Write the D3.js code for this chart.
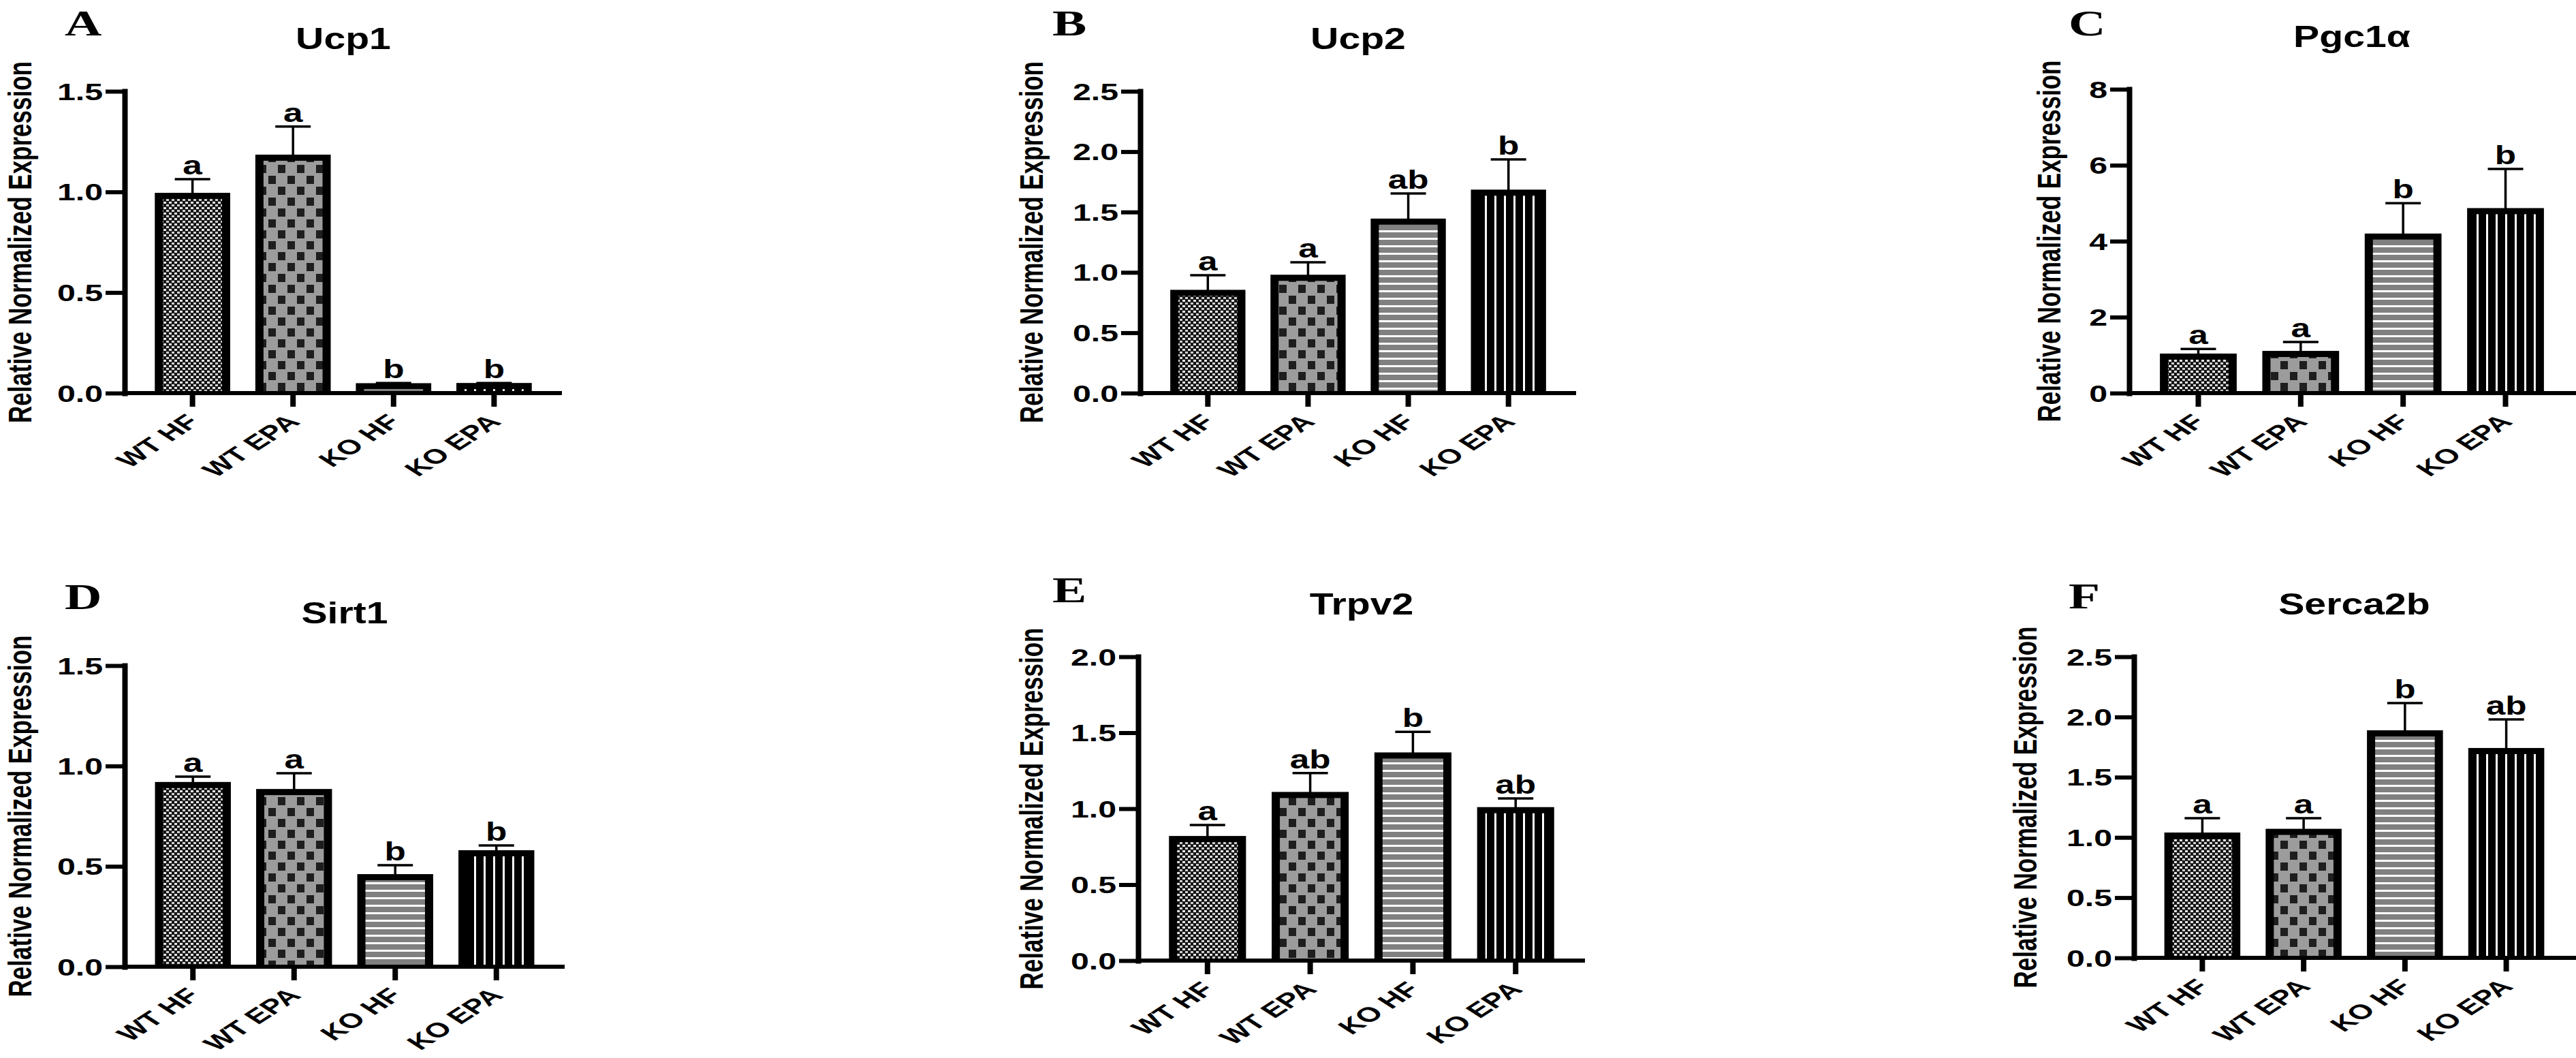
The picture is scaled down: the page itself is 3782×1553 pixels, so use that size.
<!DOCTYPE html>
<html lang="en">
<head>
<meta charset="utf-8">
<title>Relative expression panels</title>
<script src="https://cdn.jsdelivr.net/npm/d3@7"></script>
<style>
  body { margin: 0; background: #fff; }
  .axis path, .axis line { stroke: #000; fill: none; }
  text { font-family: Arial, "Liberation Sans", sans-serif; font-weight: bold; fill: #000; }
  .tag { font-family: "Times New Roman", "Liberation Serif", serif; }
</style>
</head>
<body>
<script>
// groups on the x axis of every panel
var groups = ["WT HF", "WT EPA", "KO HF", "KO EPA"];
var genes = ["Ucp1", "Ucp2", "Pgc1\u03b1", "Sirt1", "Trpv2", "Serca2b"];
var panelTags = ["A", "B", "C", "D", "E", "F"];
var yTitle = "Relative Normalized Expression";

// mean relative expression, one row per gene (same order as groups)
var means = [
  [0.98, 1.17, 0.034, 0.035],
  [0.83, 0.955, 1.42, 1.66],
  [0.96, 1.03, 4.12, 4.79],
  [0.905, 0.87, 0.446, 0.565],
  [0.80, 1.09, 1.35, 0.99],
  [1.015, 1.046, 1.864, 1.717]
];
// error bars (SEM), drawn upward only
var sems = [
  [0.083, 0.155, 0.016, 0.015],
  [0.146, 0.128, 0.233, 0.275],
  [0.2, 0.315, 0.88, 1.11],
  [0.042, 0.094, 0.06, 0.039],
  [0.092, 0.144, 0.156, 0.077],
  [0.145, 0.114, 0.251, 0.263]
];
// significance letters above the bars
var sigLetters = [
  ["a", "a", "b", "b"],
  ["a", "a", "ab", "b"],
  ["a", "a", "b", "b"],
  ["a", "a", "b", "b"],
  ["a", "ab", "b", "ab"],
  ["a", "a", "b", "ab"]
];
var yMax = [1.5, 2.5, 8, 1.5, 2.0, 2.5];
var yTicks = [
  [0, 0.5, 1.0, 1.5],
  [0, 0.5, 1.0, 1.5, 2.0, 2.5],
  [0, 2, 4, 6, 8],
  [0, 0.5, 1.0, 1.5],
  [0, 0.5, 1.0, 1.5, 2.0],
  [0, 0.5, 1.0, 1.5, 2.0, 2.5]
];
var tickFormats = [".1f", ".1f", "d", ".1f", ".1f", ".1f"];

// where each panel sits: y axis x, axis top, zero line, x axis end, y title x, tag position
var layout = [
  {x0: 183,  top: 134, zero: 577,  x1: 825,  labX: 34,   tagX: 95,   tagY: 52},
  {x0: 1674, top: 134, zero: 577,  x1: 2314, labX: 1519, tagX: 1545, tagY: 52},
  {x0: 3126, top: 131, zero: 577,  x1: 3782, labX: 3013, tagX: 3037, tagY: 52},
  {x0: 183,  top: 977, zero: 1419, x1: 829,  labX: 34,   tagX: 95,   tagY: 894},
  {x0: 1671, top: 964, zero: 1410, x1: 2327, labX: 1519, tagX: 1545, tagY: 884},
  {x0: 3133, top: 964, zero: 1406, x1: 3782, labX: 2978, tagX: 3037, tagY: 893}
];

var width = 3782, height = 1553;
var svg = d3.select("body").append("svg")
    .attr("width", width)
    .attr("height", height);
svg.append("rect").attr("width", width).attr("height", height).attr("fill", "#fff");

// fill patterns, one per group
var defs = svg.append("defs");
function pattern(id, w, h) {
  return defs.append("pattern").attr("id", id)
      .attr("patternUnits", "userSpaceOnUse")
      .attr("width", w).attr("height", h);
}
var p0 = pattern("fill0", 8, 8);
p0.append("rect").attr("width", 8).attr("height", 8).attr("fill", "#151515");
p0.append("rect").attr("width", 4).attr("height", 3).attr("fill", "#e6e6e6");
p0.append("rect").attr("x", 4).attr("y", 4).attr("width", 4).attr("height", 3).attr("fill", "#d0d0d0");

var p1 = pattern("fill1", 28, 32);
p1.append("rect").attr("width", 28).attr("height", 32).attr("fill", "#9c9c9c");
p1.append("rect").attr("x", 2).attr("y", 2).attr("width", 11).attr("height", 12).attr("fill", "#1e1e1e");
p1.append("rect").attr("x", 16).attr("y", 18).attr("width", 11).attr("height", 12).attr("fill", "#1e1e1e");

var p2 = pattern("fill2", 10, 11);
p2.append("rect").attr("width", 10).attr("height", 11).attr("fill", "#808080");
p2.append("rect").attr("y", 8).attr("width", 10).attr("height", 3).attr("fill", "#fff");

var p3 = pattern("fill3", 14, 10);
p3.append("rect").attr("width", 14).attr("height", 10).attr("fill", "#000");
p3.append("rect").attr("x", 10).attr("width", 3).attr("height", 10).attr("fill", "#fff");

var sideBorder = 12, topBorder = 9;

genes.forEach(function(gene, i) {
  var L = layout[i];
  var g = svg.append("g").attr("class", "panel");

  var x = d3.scaleBand()
      .domain(groups)
      .range([L.x0, L.x1 > 3780 ? 3780 : L.x1])
      .paddingInner(0.25)
      .paddingOuter(0.3);
  var y = d3.scaleLinear()
      .domain([0, yMax[i]])
      .range([L.zero, L.top]);

  var rows = groups.map(function(grp, j) {
    return {group: grp, idx: j, mean: means[i][j], sem: sems[i][j], sig: sigLetters[i][j]};
  });

  // bars: black frame, pattern inside
  var bar = g.selectAll(".bar").data(rows).enter().append("g").attr("class", "bar");
  bar.append("rect")
      .attr("x", function(d) { return x(d.group); })
      .attr("y", function(d) { return y(d.mean) - topBorder / 2; })
      .attr("width", x.bandwidth())
      .attr("height", function(d) { return L.zero - y(d.mean) + topBorder / 2; })
      .attr("fill", "#000");
  bar.append("rect")
      .attr("x", function(d) { return x(d.group) + sideBorder; })
      .attr("y", function(d) { return y(d.mean) + topBorder / 2; })
      .attr("width", x.bandwidth() - 2 * sideBorder)
      .attr("height", function(d) { return Math.max(0, L.zero - 3 - y(d.mean) - topBorder / 2); })
      .attr("fill", function(d) { return "url(#fill" + d.idx + ")"; });

  // error bars
  var cx = function(d) { return x(d.group) + x.bandwidth() / 2; };
  bar.append("line")
      .attr("x1", cx).attr("x2", cx)
      .attr("y1", function(d) { return y(d.mean); })
      .attr("y2", function(d) { return y(d.mean + d.sem); })
      .attr("stroke", "#000").attr("stroke-width", 3.5);
  bar.append("line")
      .attr("x1", function(d) { return cx(d) - 26; })
      .attr("x2", function(d) { return cx(d) + 26; })
      .attr("y1", function(d) { return y(d.mean + d.sem); })
      .attr("y2", function(d) { return y(d.mean + d.sem); })
      .attr("stroke", "#000").attr("stroke-width", 3.5);
  bar.append("text")
      .attr("transform", function(d) {
        return "translate(" + cx(d) + "," + (y(d.mean + d.sem) - 7) + ") scale(1.35,1)";
      })
      .attr("text-anchor", "middle")
      .style("font-size", "38px")
      .text(function(d) { return d.sig; });

  // y axis
  var yAxis = d3.axisLeft(y)
      .tickValues(yTicks[i])
      .tickFormat(d3.format(tickFormats[i]))
      .tickSize(28)
      .tickSizeOuter(0);
  var gy = g.append("g")
      .attr("class", "axis")
      .attr("font-size", null).attr("font-family", null)
      .attr("transform", "translate(" + L.x0 + ",0)")
      .call(yAxis);
  gy.select(".domain").attr("stroke-width", 8).attr("stroke-linecap", "square");
  gy.selectAll(".tick line").attr("stroke-width", 6);
  gy.selectAll(".tick text")
      .attr("x", null).attr("dy", null)
      .attr("dominant-baseline", "central")
      .attr("transform", "translate(-32,0) scale(1.38,1)")
      .style("font-size", "35px");

  // x axis
  var xAxis = d3.axisBottom(x).tickSize(20).tickSizeOuter(0);
  var gx = g.append("g")
      .attr("class", "axis")
      .attr("font-size", null).attr("font-family", null)
      .attr("transform", "translate(0," + L.zero + ")")
      .call(xAxis);
  gx.select(".domain").attr("d", "M" + L.x0 + ",0H" + L.x1).attr("stroke-width", 6);
  gx.selectAll(".tick line").attr("stroke-width", 8);
  gx.selectAll(".tick text")
      .attr("y", null).attr("dy", null)
      .attr("text-anchor", "end")
      .attr("transform", "translate(12,44) scale(1.55,1) rotate(-45)")
      .style("font-size", "30px");

  // y title
  g.append("text")
      .attr("transform", "translate(" + L.labX + "," + ((L.top + L.zero) / 2) + ") scale(1.4,1) rotate(-90)")
      .attr("text-anchor", "middle")
      .attr("dy", "0.25em")
      .style("font-size", "35px")
      .text(yTitle);

  // gene title
  g.append("text")
      .attr("transform", "translate(" + ((L.x0 + Math.min(L.x1, 3780)) / 2) + "," + (L.top - 62) + ") scale(1.3,1)")
      .attr("text-anchor", "middle")
      .style("font-size", "44px")
      .text(gene);

  // panel letter
  g.append("text")
      .attr("class", "tag")
      .attr("transform", "translate(" + L.tagX + "," + L.tagY + ") scale(1.45,1)")
      .style("font-size", "52px")
      .text(panelTags[i]);
});
</script>
</body>
</html>
